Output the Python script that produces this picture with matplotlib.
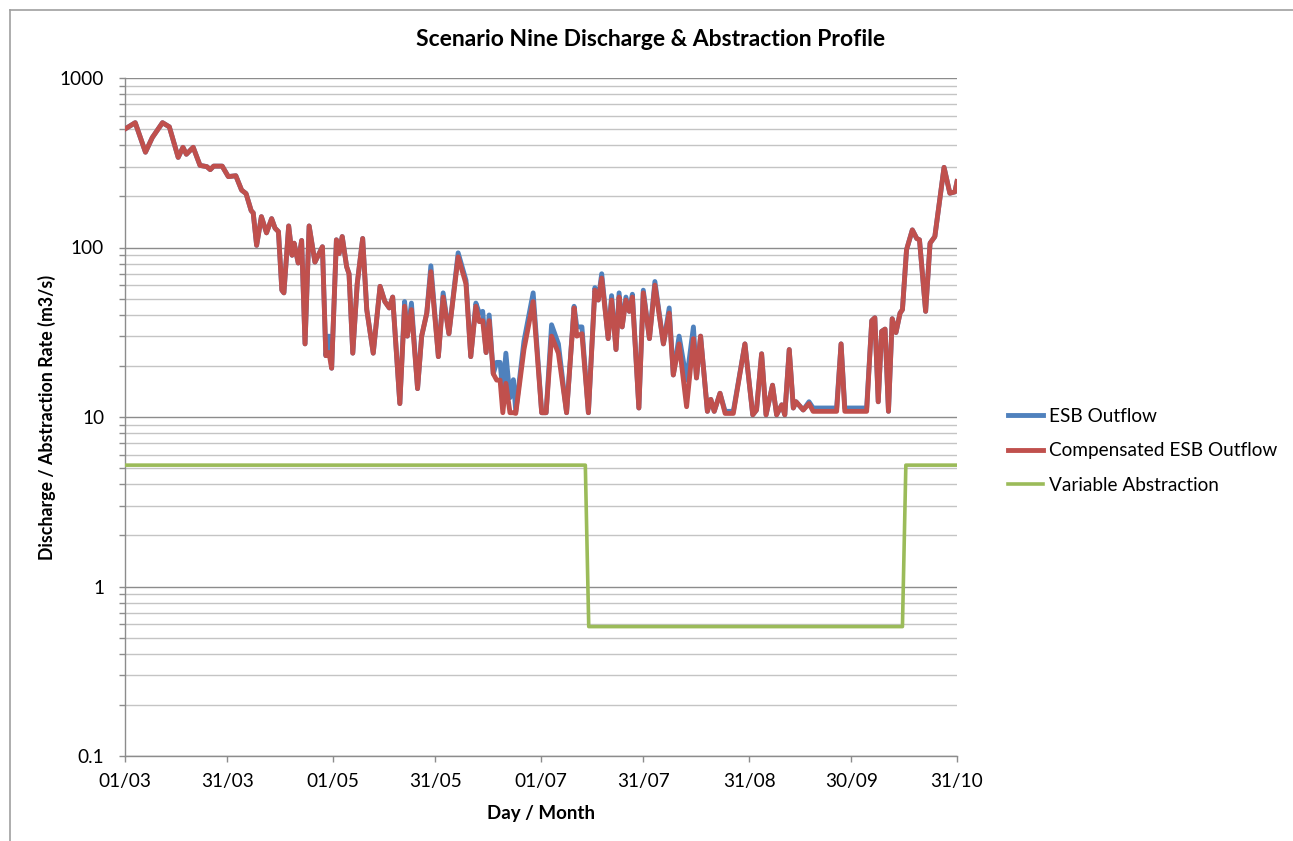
import numpy as np
import matplotlib
matplotlib.use('Agg')
import matplotlib.pyplot as plt
from matplotlib.ticker import LogLocator, FixedLocator, NullFormatter, FuncFormatter
from matplotlib.lines import Line2D

plt.rcParams['font.family'] = ['Lato', 'DejaVu Sans']

# days since 01/03
days = [0, 3, 6, 8, 11, 13, 15.6, 17, 18, 20, 22, 24, 25, 26, 28.5, 30.3, 32.5, 34.2, 35.5,
        37, 37.6, 38.6, 40, 41.5, 43, 44, 45, 46, 46.6, 48, 49, 49.6, 50.8, 51.8, 52.8, 54,
        55.7, 57.9, 58.9, 59.8, 60.6, 62, 62.8, 63.7, 65, 65.7, 66.8, 68.1, 69.7, 70.9, 72.8,
        74.8, 76.2, 77.5, 78.5, 80.6, 82, 82.8, 84, 85.8, 87, 88.5, 89.7, 91.9, 93.3, 95,
        97.7, 100, 101.4, 102.9, 103.9, 104.9, 105.9, 106.8, 108, 109, 110, 110.8, 111.7,
        112.9, 113.9, 114.6, 117, 119.7, 122.2, 123.5, 125.1, 127.1, 129.5, 131.7, 132.5,
        134, 135.9, 137.8, 138.8, 139.8, 141.7, 142.7, 144, 144.9, 145.8, 146.9, 147.9,
        148.8, 150.7, 152, 153.8, 155.4, 157.9, 159.6, 160.8, 162.5, 164.7, 166.7, 167.6,
        168.8, 170.8, 171.8, 172.8, 174.5, 176, 178.4, 181.8, 184.1, 185.2, 186.7, 188,
        189.9, 191.1, 192.6, 193.5, 194.8, 196, 196.8, 198.9, 200.6, 201.8, 208.7, 210,
        211.1, 217.5, 219, 219.9, 220.9, 221.9, 222.9, 223.9, 225, 226.1, 227.3, 228,
        229.2, 230.9, 232.2, 233, 234.8, 236.1, 237.5, 240.2, 241.9, 243.4, 244]

comp_outflow = [500, 545, 365, 445, 545, 515, 340, 390, 355, 390, 305, 300, 288, 302, 302, 262,
                265, 218, 208, 165, 160, 103, 152, 122, 148, 130, 124, 56, 54, 134, 90, 106,
                81, 110, 27, 134, 82, 101, 23, 24, 19.4, 111, 92, 116, 77, 70, 23.8, 61, 113,
                43, 23.8, 59, 48, 44, 51, 12, 45, 30, 43, 14.7, 30, 41, 72, 22.7, 51, 31,
                88, 61, 22.7, 45, 36.5, 37, 24, 37, 18, 16.5, 16.5, 10.6, 15.8,
                10.6, 10.6, 10.5, 25, 48, 10.6, 10.6, 30, 23.8, 10.6, 44, 30,
                31, 10.6, 56, 49, 66, 29, 49, 25, 51, 34, 49, 42,
                51, 11.3, 54, 29, 60, 27, 41, 17.7, 27, 11.5, 29, 17,
                30, 10.8, 12.7, 10.8, 13.8, 10.5, 10.5, 27, 10.3, 11, 23.6, 10.3,
                15.4, 10.3, 11.8, 10.3, 25, 11.3, 12.3, 11, 12, 10.8, 10.8, 27,
                10.8, 10.8, 37, 38.5, 12.3, 32, 33, 10.8, 38, 31.5, 41, 43,
                97, 127, 113, 111, 42, 106, 116, 297, 209, 213, 245]

esb_outflow = [500, 545, 365, 445, 545, 515, 340, 390, 355, 390, 305, 300, 288, 302, 302, 262,
               265, 218, 208, 165, 160, 103, 152, 122, 148, 130, 124, 56, 54, 134, 90, 106,
               81, 110, 27, 134, 82, 101, 23, 30, 19.4, 111, 92, 116, 77, 70, 23.8, 61, 113,
               43, 23.8, 59, 48, 44, 51, 12, 48, 30, 47, 14.7, 30, 41, 78, 22.7, 54, 31,
               93, 64, 22.7, 47, 41, 42, 24, 40, 18, 21, 21, 14, 23.8,
               13, 16.6, 10.8, 28, 54, 10.6, 10.6, 35, 27, 10.6, 45, 34,
               34, 10.6, 58, 49, 70, 29, 52, 25, 54, 34, 51, 42,
               53, 11.3, 56, 29, 63, 27, 44, 17.7, 30, 16.5, 34, 17,
               30, 10.8, 12.7, 10.8, 13.8, 10.8, 10.8, 27, 10.3, 11, 23.6, 10.3,
               15.4, 10.3, 11.8, 10.3, 25, 11.3, 12.3, 11, 12.3, 11.3, 11.3, 27,
               11.3, 11.3, 37, 38.5, 12.3, 32, 33, 10.8, 38, 31.5, 41, 43,
               97, 127, 113, 111, 42, 106, 116, 297, 209, 213, 245]

abs_days = [0, 135, 136, 228, 229, 244]
abstraction = [5.2, 5.2, 0.58, 0.58, 5.2, 5.2]

tick_days = [0, 30, 61, 91, 122, 152, 183, 213, 244]
tick_labels = ['01/03', '31/03', '01/05', '31/05', '01/07', '31/07', '31/08', '30/09', '31/10']

fig = plt.figure(figsize=(12.93, 8.41), dpi=100)
ax = fig.add_axes([125 / 1293, 1 - 756 / 841, (957 - 125) / 1293, (756 - 78) / 841])

ax.plot(days, esb_outflow, color='#4F81BD', lw=3.5, solid_joinstyle='round', label='ESB Outflow', zorder=3)
ax.plot(days, comp_outflow, color='#C0504D', lw=3.5, solid_joinstyle='round', label='Compensated ESB Outflow', zorder=4)
ax.plot(abs_days, abstraction, color='#9BBB59', lw=2.6, solid_joinstyle='round', label='Variable Abstraction', zorder=5)

ax.set_yscale('log')
ax.set_ylim(0.1, 1000)
ax.set_xlim(0, 244)
ax.yaxis.set_major_locator(LogLocator(base=10, numticks=10))
ax.yaxis.set_minor_locator(LogLocator(base=10, subs=np.arange(2, 10), numticks=20))
ax.yaxis.set_major_formatter(FuncFormatter(lambda v, p: '%g' % v))
ax.yaxis.set_minor_formatter(NullFormatter())
ax.xaxis.set_major_locator(FixedLocator(tick_days))
ax.set_xticklabels(tick_labels)

ax.grid(True, which='major', axis='y', color='#8C8C8C', lw=1.0)
ax.grid(True, which='minor', axis='y', color='#C4C4C4', lw=1.0)
ax.set_axisbelow(True)

for s in ['top', 'right']:
    ax.spines[s].set_visible(False)
for s in ['left', 'bottom']:
    ax.spines[s].set_color('#8C8C8C')
    ax.spines[s].set_linewidth(1.0)

ax.tick_params(axis='both', which='both', color='#8C8C8C', length=4, width=1.0, labelsize=13.7)
ax.tick_params(axis='x', pad=8)
ax.tick_params(axis='y', pad=11)

ax.set_xlabel('Day / Month', fontsize=13.5, fontweight='bold', labelpad=11)
ax.set_ylabel('Discharge / Abstraction Rate (m3/s)', fontsize=12.8, fontweight='bold', labelpad=3)
fig.text(0.503, 1 - 40 / 841, 'Scenario Nine Discharge & Abstraction Profile',
         ha='center', va='center', fontsize=16.5, fontweight='bold')

fig.legend(loc='center left', bbox_to_anchor=(1008 / 1293, 1 - 451 / 841), frameon=False,
           fontsize=13.7, handlelength=1.85, handletextpad=0.28, labelspacing=0.92,
           borderpad=0, borderaxespad=0)

# outer chart-area border
fig.add_artist(Line2D([10 / 1293, 10 / 1293], [0, 1 - 10 / 841], color='#A0A0A0', lw=1.2))
fig.add_artist(Line2D([10 / 1293, 1], [1 - 10 / 841, 1 - 10 / 841], color='#A0A0A0', lw=1.2))

fig.savefig('out.png', dpi=100)
